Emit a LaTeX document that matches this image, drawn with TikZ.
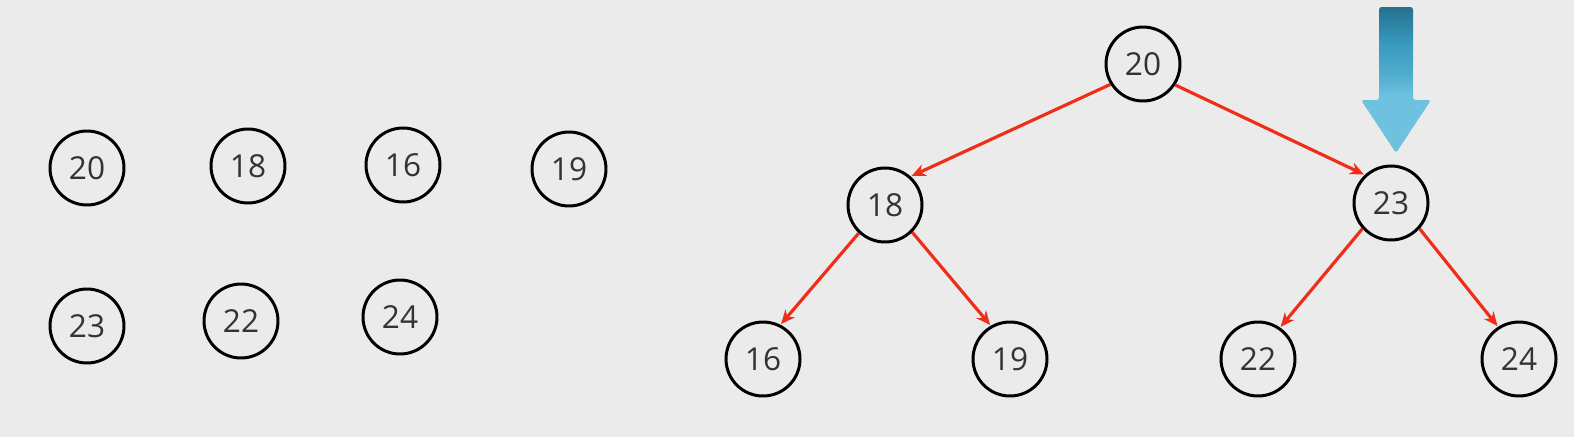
\documentclass[tikz,border=0pt]{standalone}
\usepackage{fontspec}
\setmainfont{Open Sans}
\usetikzlibrary{arrows.meta}
\definecolor{bgcol}{RGB}{235,235,235}
\definecolor{edgered}{RGB}{240,45,25}
\definecolor{numgray}{RGB}{51,51,51}
\definecolor{pointtop}{RGB}{36,112,142}
\definecolor{pointmid}{RGB}{58,155,192}
\definecolor{pointmidb}{RGB}{80,172,206}
\definecolor{pointbot}{RGB}{110,194,224}
\pgfdeclareverticalshading{pointershade}{100bp}{color(0bp)=(pointbot); color(25bp)=(pointbot);
  color(44bp)=(pointbot); color(52bp)=(pointmidb); color(62bp)=(pointmid); color(75bp)=(pointtop); color(100bp)=(pointtop)}
\tikzset{
  key/.style={circle,draw=black,line width=1.7pt,minimum size=1.48cm,inner sep=0pt,
    text=numgray,font=\fontsize{18}{20}\selectfont},
  link/.style={->,>={Stealth[length=8pt,width=7pt]},draw=edgered,line width=1.8pt,shorten >=0.5pt}
}

\begin{document}
\begin{tikzpicture}[x=0.02cm,y=-0.02cm]
  \fill[bgcol] (0,0) rectangle (1574,437);
  \useasboundingbox (0,0) rectangle (1574,437);

  % unsorted keys
  \node[key] (a20) at (87,168) {20};
  \node[key] (a18) at (248,166) {18};
  \node[key] (a16) at (403,165) {16};
  \node[key] (a19) at (569,169) {19};
  \node[key] (a23) at (87,326) {23};
  \node[key] (a22) at (241,321) {22};
  \node[key] (a24) at (400,317) {24};

  % tree
  \node[key] (r) at (1143,64) {20};
  \node[key] (l) at (885,205) {18};
  \node[key] (m) at (1391,203) {23};
  \node[key] (ll) at (763,359) {16};
  \node[key] (lr) at (1010,359) {19};
  \node[key] (ml) at (1258,359) {22};
  \node[key] (mr) at (1519,359) {24};

  \path[every edge/.style=link]
  (r.212) edge (l.48)
  (r.327) edge (m.133)

  (l.227) edge (ll.63)
  (l.315) edge (lr.120)

  (m.222) edge (ml.55)
  (m.318) edge (mr.123)
  ;

  % pointer
  \shade[shading=pointershade,rounded corners=1.5pt]
  (1379,7) -- (1413,7) -- (1413,100) -- (1431,100) -- (1396,153)
  -- (1361,100) -- (1379,100) -- cycle;
\end{tikzpicture}
\end{document}
